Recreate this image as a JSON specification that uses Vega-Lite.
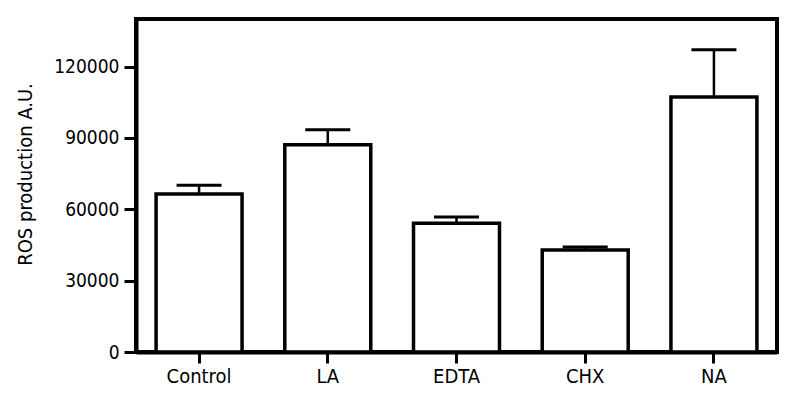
{
  "$schema": "https://vega.github.io/schema/vega-lite/v6.json",
  "width": 641,
  "height": 333,
  "autosize": "none",
  "padding": {"left": 136, "top": 19, "right": 17, "bottom": 48},
  "background": "white",
  "data": {
    "values": [
      {"group": "Control", "value": 66450, "upper": 70100},
      {"group": "LA", "value": 87100, "upper": 93400},
      {"group": "EDTA", "value": 54100, "upper": 56750},
      {"group": "CHX", "value": 42850, "upper": 44100},
      {"group": "NA", "value": 107200, "upper": 127100}
    ]
  },
  "encoding": {
    "x": {
      "field": "group",
      "type": "nominal",
      "sort": null,
      "scale": {"paddingInner": 0.332, "paddingOuter": 0.156},
      "axis": {
        "title": null,
        "labelAngle": 0,
        "labelFont": "DejaVu Sans Condensed, Roboto Condensed, Liberation Sans, sans-serif",
        "labelFontSize": 20,
        "labelPadding": 3,
        "tickSize": 11
      }
    }
  },
  "layer": [
    {
      "mark": {"type": "rule", "color": "black", "strokeWidth": 2.5},
      "encoding": {
        "y": {"field": "value", "type": "quantitative"},
        "y2": {"field": "upper"}
      }
    },
    {
      "mark": {"type": "tick", "color": "black", "size": 45, "thickness": 3, "opacity": 1},
      "encoding": {
        "y": {"field": "upper", "type": "quantitative"}
      }
    },
    {
      "mark": {"type": "bar", "fill": "white", "stroke": "black", "strokeWidth": 3.5, "strokeJoin": "miter"},
      "encoding": {
        "y": {
          "field": "value",
          "type": "quantitative",
          "scale": {"domain": [0, 140000], "nice": false},
          "axis": {
            "title": "ROS production A.U.",
            "titleFont": "DejaVu Sans Condensed, Roboto Condensed, Liberation Sans, sans-serif",
            "titleFontSize": 20,
            "titleFontWeight": "normal",
            "titleBaseline": "middle",
            "titleAlign": "center",
            "titleX": -111,
            "titleY": 155,
            "values": [0, 30000, 60000, 90000, 120000],
            "format": "d",
            "labelFont": "DejaVu Sans Condensed, Roboto Condensed, Liberation Sans, sans-serif",
            "labelFontSize": 19,
            "labelPadding": 5,
            "tickSize": 12
          }
        }
      }
    }
  ],
  "config": {
    "view": {"stroke": "black", "strokeWidth": 4},
    "axis": {
      "grid": false,
      "domainColor": "black",
      "domainWidth": 4,
      "tickColor": "black",
      "tickWidth": 3,
      "labelColor": "black",
      "titleColor": "black"
    }
  }
}
